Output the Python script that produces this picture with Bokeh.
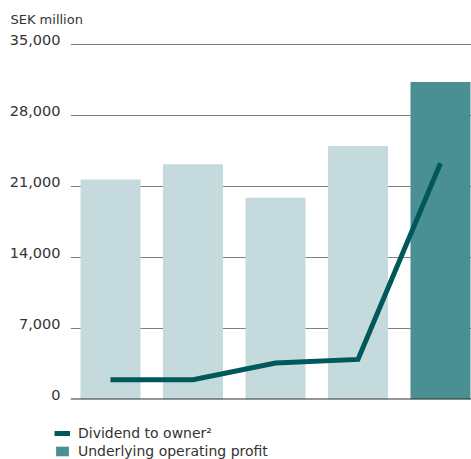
from bokeh.plotting import figure
from bokeh.layouts import column
from bokeh.models import (ColumnDataSource, FixedTicker, Legend, LegendItem, Span, Grid,
                          LinearAxis, Title, NumeralTickFormatter, Range1d)
from bokeh.embed import file_html
from bokeh.resources import INLINE

# ---- data ----
positions = [0, 1, 2, 3, 4]
operating_profit = [21700, 23200, 19900, 25000, 31300]
dividend = [1950, 1950, 3600, 3950, 23300]
y_ticks = [0, 7000, 14000, 21000, 28000, 35000]
series_names = ["Dividend to owner²", "Underlying operating profit"]
unit_label = "SEK million"

LIGHT = "#c5dadd"
DARK = "#4a8f94"
LINE = "#00585a"
TEXT = "#333333"
FONT = "DejaVu Sans"

Y_MAX = 35500
LABEL_SHIFT = 444  # lifts tick labels so that they sit on their grid lines

bar_colors = [LIGHT] * (len(positions) - 1) + [DARK]
src = ColumnDataSource(dict(x=positions, top=operating_profit, color=bar_colors))

p = figure(width=471, height=410, output_backend="svg", toolbar_location=None,
           x_range=Range1d(-0.485, 4.376), y_range=Range1d(0, Y_MAX),
           x_axis_type=None, y_axis_type=None,
           min_border_left=70, min_border_right=0, min_border_top=39,
           min_border_bottom=11, title=None)
p.outline_line_color = None
p.background_fill_color = "white"
p.border_fill_color = "white"
p.extra_y_ranges = {"labels": Range1d(-LABEL_SHIFT, Y_MAX - LABEL_SHIFT)}

p.add_layout(Grid(dimension=1, ticker=FixedTicker(ticks=y_ticks),
                  grid_line_color="#7f7f7f", grid_line_width=1))

bars = p.vbar(x="x", top="top", width=0.727, fill_color="color", line_color=None, source=src)
line = p.line(positions, dividend, line_width=5, line_color=LINE, line_join="miter", line_cap="butt")

yaxis = LinearAxis(y_range_name="labels", ticker=FixedTicker(ticks=y_ticks),
                   formatter=NumeralTickFormatter(format="0,0"))
yaxis.axis_line_color = None
yaxis.major_tick_line_color = None
yaxis.minor_tick_line_color = None
yaxis.major_label_standoff = 4
yaxis.major_label_text_font_size = "14.5px"
yaxis.major_label_text_font = FONT
yaxis.major_label_text_color = TEXT
p.add_layout(yaxis, "left")

p.add_layout(Span(location=0, dimension="width", line_color=TEXT, line_width=2))

t = Title(text=unit_label, align="left", offset=-60, standoff=22, vertical_align="top",
          text_font_size="13px", text_font_style="normal", text_color=TEXT, text_font=FONT)
p.add_layout(t, "above")

# legend strip below the chart (placeholder renderers carry only the legend styling)
nan = float("nan")
lg = figure(width=471, height=49, output_backend="svg", toolbar_location=None,
            x_range=Range1d(0, 1), y_range=Range1d(0, 1),
            x_axis_type=None, y_axis_type=None, min_border=0, title=None)
lg.outline_line_color = None
lg.grid.visible = False
lg_line = lg.line(x=[nan], y=[nan], line_width=5, line_color=LINE)
lg_bar = lg.vbar(x=[nan], top=[nan], width=1, fill_color=DARK, line_color=None)

if hasattr(lg, "frame_align"):
    lg.frame_align = False
    p.frame_align = False

legend = Legend(items=[LegendItem(label=series_names[0], renderers=[lg_line]),
                       LegendItem(label=series_names[1], renderers=[lg_bar])],
                location=(54, 0), orientation="vertical",
                border_line_color=None, background_fill_alpha=0,
                padding=0, margin=0, spacing=2, glyph_width=16, glyph_height=12,
                label_standoff=8, label_text_font_size="14px", label_text_font=FONT,
                label_text_color=TEXT, label_height=12)
lg.add_layout(legend)

layout = column(p, lg, spacing=0)
open("out.html", "w").write(file_html(layout, INLINE))
